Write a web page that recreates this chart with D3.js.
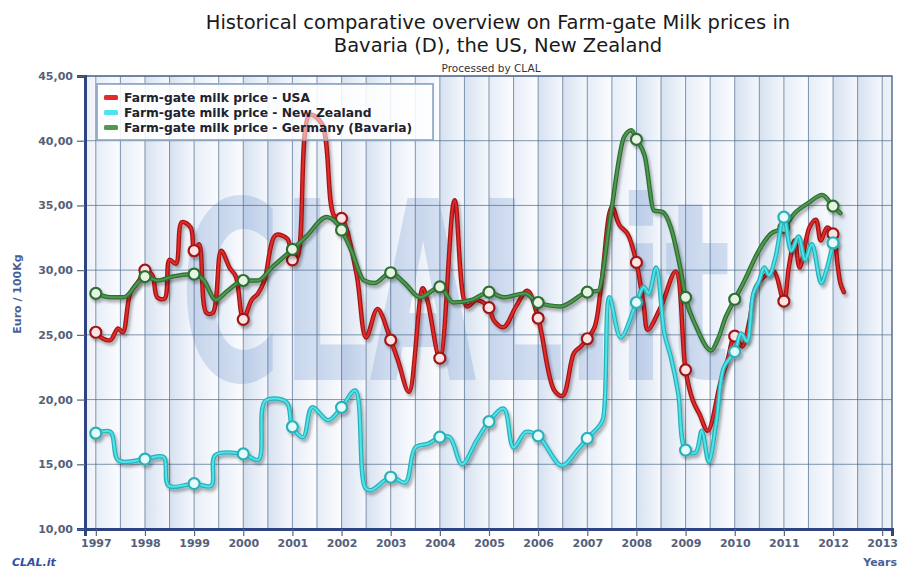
<!DOCTYPE html>
<html>
<head>
<meta charset="utf-8">
<script src="https://cdn.jsdelivr.net/npm/d3@7/dist/d3.min.js"></script>
<style>
html,body{margin:0;padding:0;background:#fff;}
svg{display:block;}
</style>
</head>
<body>
<svg id="chart" width="901" height="571"></svg>
<script>
// ---------- DATA ----------
const titleLines = ["Historical comparative overview on Farm-gate Milk prices in", "Bavaria (D), the US, New Zealand"];
const subtitle = "Processed by CLAL";
const seriesNames = ["Farm-gate milk price - USA", "Farm-gate milk price - New Zealand", "Farm-gate milk price - Germany (Bavaria)"];
const yTicks = [10, 15, 20, 25, 30, 35, 40, 45];
const xTickYears = [1997,1998,1999,2000,2001,2002,2003,2004,2005,2006,2007,2008,2009,2010,2011,2012,2013];

const usaDates = [1997.0,1997.15,1997.3,1997.45,1997.55,1997.7,1997.88,1998.0,1998.15,1998.25,1998.4,1998.5,1998.63,1998.75,1998.93,1999.0,1999.1,1999.25,1999.38,1999.55,1999.72,1999.85,2000.0,2000.17,2000.3,2000.43,2000.66,2000.9,2001.0,2001.1,2001.35,2001.6,2001.85,2002.0,2002.3,2002.5,2002.73,2003.0,2003.15,2003.37,2003.65,2003.75,2004.0,2004.3,2004.55,2004.75,2005.0,2005.1,2005.3,2005.55,2005.78,2006.0,2006.33,2006.5,2006.73,2006.87,2007.0,2007.15,2007.28,2007.5,2007.65,2007.82,2008.0,2008.15,2008.23,2008.5,2008.8,2009.0,2009.15,2009.28,2009.45,2009.72,2009.85,2010.0,2010.15,2010.3,2010.43,2010.67,2010.8,2011.0,2011.1,2011.22,2011.32,2011.52,2011.65,2011.75,2011.88,2012.0,2012.1,2012.15,2012.22];
const usaValues = [25.2,24.7,24.6,25.5,25.2,28.2,29.2,30.0,29.6,27.9,27.8,30.8,30.5,33.7,33.3,31.5,32.0,26.7,26.7,31.5,30.2,29.5,26.2,27.7,28.2,29.2,32.7,32.4,30.8,31.0,42.0,41.3,34.2,34.0,29.8,24.8,27.0,24.6,23.0,20.6,28.6,27.6,23.2,35.4,27.2,27.7,27.1,26.1,25.6,27.2,28.4,26.3,20.7,20.3,23.6,24.1,24.7,25.6,28.7,34.9,33.5,32.8,30.6,27.2,25.4,27.2,29.9,22.3,19.9,18.9,17.6,21.5,23.0,24.9,24.1,26.1,28.7,29.7,29.9,27.6,30.2,32.3,30.2,33.3,33.9,32.3,33.3,32.8,30.2,29.0,28.3];

const nzDates = [1997.0,1997.3,1997.46,1998.0,1998.38,1998.48,1999.0,1999.35,1999.43,2000.0,2000.31,2000.45,2000.88,2001.0,2001.22,2001.4,2001.73,2002.0,2002.28,2002.48,2002.6,2003.0,2003.3,2003.5,2003.77,2004.0,2004.2,2004.45,2004.75,2005.0,2005.3,2005.5,2005.75,2006.0,2006.48,2006.8,2007.0,2007.23,2007.32,2007.45,2007.68,2008.0,2008.15,2008.25,2008.4,2008.57,2008.7,2008.85,2009.0,2009.2,2009.33,2009.47,2009.63,2009.78,2010.0,2010.13,2010.25,2010.38,2010.5,2010.6,2010.7,2010.83,2011.0,2011.15,2011.3,2011.43,2011.57,2011.76,2011.88,2012.0];
const nzValues = [17.4,17.5,15.3,15.4,15.55,13.35,13.5,13.35,15.7,15.8,15.35,19.9,19.8,17.9,17.1,19.4,18.4,19.4,20.7,13.2,13.0,14.0,13.6,16.3,16.6,17.1,17.1,15.0,16.85,18.3,19.3,16.3,17.5,17.2,14.9,16.1,17.0,17.9,18.5,27.9,24.8,27.5,28.7,28.2,30.2,25.1,23.3,20.5,16.1,15.9,17.6,15.2,18.4,22.5,23.7,25.1,24.5,28.2,29.2,30.2,29.6,31.0,34.1,31.5,32.6,30.8,32.0,29.0,30.2,32.1];

const deDates = [1997.0,1997.3,1997.57,1997.85,1998.0,1998.27,1998.55,1999.0,1999.2,1999.44,1999.68,2000.0,2000.3,2000.58,2001.0,2001.28,2001.7,2002.0,2002.2,2002.46,2002.67,2003.0,2003.28,2003.6,2004.0,2004.27,2004.65,2005.0,2005.3,2005.73,2006.0,2006.45,2007.0,2007.22,2007.48,2007.75,2007.9,2008.0,2008.17,2008.36,2008.53,2008.7,2008.9,2009.0,2009.22,2009.52,2009.65,2009.82,2010.0,2010.2,2010.46,2010.73,2011.0,2011.22,2011.5,2011.78,2012.0,2012.15];
const deValues = [28.2,27.9,27.9,29.0,29.5,29.2,29.5,29.7,29.2,27.7,28.4,29.2,29.2,30.2,31.6,32.6,34.1,33.1,31.5,29.2,29.0,29.8,29.0,27.9,28.7,27.5,27.7,28.3,27.9,28.2,27.5,27.2,28.3,28.4,34.4,40.3,40.8,40.1,38.8,34.6,34.5,33.3,30.0,27.9,25.6,23.8,24.6,26.4,27.75,29.2,31.3,32.8,33.3,34.4,35.2,35.8,34.95,34.4];

// ---------- LAYOUT ----------
const FONT = "DejaVu Sans, Verdana, sans-serif";
const svg = d3.select("#chart");
const plot = {left: 85, right: 892, top: 76, bottom: 529};
const x = d3.scaleLinear().domain([1996.78, 2013.2]).range([plot.left, plot.right]);
const y = d3.scaleLinear().domain([10, 45]).range([plot.bottom, plot.top]);

const defs = svg.append("defs");
const stripe = defs.append("linearGradient").attr("id","stripe").attr("x1","0").attr("x2","1").attr("y1","0").attr("y2","0");
stripe.append("stop").attr("offset","0%").attr("stop-color","#d6e1f0");
stripe.append("stop").attr("offset","100%").attr("stop-color","#f5f8fc");
const stripe2 = defs.append("linearGradient").attr("id","stripe2").attr("x1","0").attr("x2","1").attr("y1","0").attr("y2","0");
stripe2.append("stop").attr("offset","0%").attr("stop-color","#e6edf7");
stripe2.append("stop").attr("offset","100%").attr("stop-color","#fbfcfe");
const clip = defs.append("clipPath").attr("id","plotclip");
clip.append("rect").attr("x",plot.left).attr("y",plot.top).attr("width",plot.right-plot.left).attr("height",plot.bottom-plot.top);
const shadow = defs.append("filter").attr("id","shadow").attr("x","-5%").attr("y","-5%").attr("width","110%").attr("height","115%");
shadow.append("feGaussianBlur").attr("in","SourceAlpha").attr("stdDeviation","1.5");
shadow.append("feOffset").attr("dx","1.5").attr("dy","2.5").attr("result","ob");
shadow.append("feComponentTransfer").append("feFuncA").attr("type","linear").attr("slope","0.3");
const mrg = shadow.append("feMerge");
mrg.append("feMergeNode");
mrg.append("feMergeNode").attr("in","SourceGraphic");

// background
svg.append("rect").attr("x",plot.left).attr("y",plot.top).attr("width",plot.right-plot.left).attr("height",plot.bottom-plot.top).attr("fill","#f4f7fb");

// half-year stripes
const halfYears = d3.range(1996.5, 2013.5, 0.5);
const g = svg.append("g").attr("clip-path","url(#plotclip)");
g.selectAll("rect.stripe").data(halfYears).enter().append("rect")
  .attr("x", d => x(d)).attr("y", plot.top)
  .attr("width", d => x(d+0.5)-x(d)).attr("height", plot.bottom-plot.top)
  .attr("fill", d => (Math.floor(d) % 2 === 0) ? "url(#stripe)" : "url(#stripe2)");

// watermark (logo text), horizontally condensed
svg.append("text").attr("transform", "translate(180,380) scale(0.553,1)")
  .attr("font-family", FONT).attr("font-weight","bold")
  .attr("font-size", 250)
  .attr("fill","#6a90cc").attr("fill-opacity",0.26).text("CLAL.it");

// grid
const grid = svg.append("g");
grid.selectAll("line.vg").data(d3.range(1997, 2013.01, 0.5)).enter().append("line")
  .attr("x1", d => x(d)).attr("x2", d => x(d)).attr("y1", plot.top).attr("y2", plot.bottom)
  .attr("stroke","#4d6b8a").attr("stroke-width",1).attr("stroke-opacity",0.7);
grid.selectAll("line.hg").data(yTicks).enter().append("line")
  .attr("x1", plot.left).attr("x2", plot.right).attr("y1", d => y(d)).attr("y2", d => y(d))
  .attr("stroke","#4d6b8a").attr("stroke-width",1).attr("stroke-opacity",0.7);

// frame
svg.append("rect").attr("x",plot.left).attr("y",plot.top).attr("width",plot.right-plot.left).attr("height",plot.bottom-plot.top)
  .attr("fill","none").attr("stroke","#5a6e90").attr("stroke-width",1.5);

// legend box background
const lg = svg.append("g");
lg.append("rect").attr("x",97).attr("y",84).attr("width",336).attr("height",56)
  .attr("fill","#ffffff").attr("fill-opacity",0.72).attr("stroke","#8fa6c4").attr("stroke-width",1.5);

// series
const colors = [
  {outer:"#a01818", inner:"#e42a2a", mfill:"#fbe3e3"},
  {outer:"#2bb0b8", inner:"#4fe4ea", mfill:"#e4fbfc"},
  {outer:"#2f6e35", inner:"#4f9a4f", mfill:"#e6f4e2"}
];
function makeData(ds, vs){ return ds.map((d,i)=>({t:d, v:vs[i]})); }
const series = [
  {data: makeData(usaDates, usaValues), c: colors[0], curve: d3.curveCatmullRom.alpha(0.5)},
  {data: makeData(nzDates, nzValues), c: colors[1], curve: d3.curveCatmullRom.alpha(0.5)},
  {data: makeData(deDates, deValues), c: colors[2], curve: d3.curveMonotoneX}
];
const drawOrder = [0, 2, 1];
const sg = svg.append("g").attr("clip-path","url(#plotclip)");
drawOrder.forEach(si => {
  const s = series[si];
  const line = d3.line().x(d => x(d.t)).y(d => y(d.v)).curve(s.curve);
  const gg = sg.append("g").attr("filter","url(#shadow)");
  gg.append("path").attr("d", line(s.data)).attr("fill","none")
    .attr("stroke", s.c.outer).attr("stroke-width",4.5).attr("stroke-linejoin","round").attr("stroke-linecap","round");
  gg.append("path").attr("d", line(s.data)).attr("fill","none")
    .attr("stroke", s.c.inner).attr("stroke-width",2).attr("stroke-linejoin","round").attr("stroke-linecap","round");
  const marks = s.data.filter(d => Number.isInteger(d.t));
  gg.selectAll("circle").data(marks).enter().append("circle")
    .attr("cx", d => x(d.t)).attr("cy", d => y(d.v)).attr("r", 5.5)
    .attr("fill", s.c.mfill).attr("stroke", s.c.outer).attr("stroke-width", 2.2);
});

// legend entries (above the lines, semi-transparent box like the reference)
const lg2 = svg.append("g");
lg2.append("rect").attr("x",97).attr("y",84).attr("width",336).attr("height",56)
  .attr("fill","#ffffff").attr("fill-opacity",0.55).attr("stroke","#8fa6c4").attr("stroke-width",1.5);
seriesNames.forEach((n,i) => {
  const yy = 98 + i*15;
  lg2.append("rect").attr("x",104).attr("y",yy-3).attr("width",14).attr("height",5)
    .attr("fill",[colors[0].inner,colors[1].inner,colors[2].inner][i]).attr("rx",1.5);
  lg2.append("text").attr("x",124).attr("y",yy+4).attr("font-family",FONT)
    .attr("font-weight","bold").attr("font-size",12.3).attr("fill","#1e2230").text(n);
});

// axes
const yAxis = d3.axisLeft(y).tickValues(yTicks).tickSize(8).tickFormat(d => d3.format(".2f")(d).replace(".", ","));
const ya = svg.append("g").attr("transform",`translate(${plot.left},0)`).call(yAxis);
ya.select(".domain").attr("stroke","#2e4382").attr("stroke-width",3);
ya.selectAll(".tick line").attr("stroke","#5a6478").attr("stroke-width",1.2);
ya.selectAll(".tick text").attr("font-family",FONT).attr("font-weight","bold")
  .attr("font-size",11).attr("fill","#55607a").attr("dx",-1);

const xAxis = d3.axisBottom(x).tickValues(xTickYears).tickSize(7).tickFormat(d3.format("d"));
const xa = svg.append("g").attr("transform",`translate(0,${plot.bottom})`).call(xAxis);
xa.select(".domain").attr("stroke","#2e4382").attr("stroke-width",3);
xa.selectAll(".tick line").attr("stroke","#5a6478").attr("stroke-width",1.2);
xa.selectAll(".tick text").attr("font-family",FONT).attr("font-weight","bold")
  .attr("font-size",11).attr("fill","#55607a").attr("dy","0.75em");

// titles
titleLines.forEach((t,i) => {
  svg.append("text").attr("x",498).attr("y",29 + i*23).attr("text-anchor","middle")
    .attr("font-family",FONT).attr("font-size",19.5).attr("fill","#1a1a1a").text(t);
});
svg.append("text").attr("x",491).attr("y",72).attr("text-anchor","middle")
  .attr("font-family",FONT).attr("font-size",10.5).attr("fill","#333").text(subtitle);

// axis titles
svg.append("text").attr("transform","translate(21,294) rotate(-90)").attr("text-anchor","middle")
  .attr("font-family",FONT).attr("font-weight","bold").attr("font-size",11)
  .attr("fill","#4a5f9a").text("Euro / 100Kg");
svg.append("text").attr("x",897).attr("y",566).attr("text-anchor","end")
  .attr("font-family",FONT).attr("font-weight","bold").attr("font-size",11)
  .attr("fill","#4a5f9a").text("Years");
svg.append("text").attr("x",12).attr("y",566)
  .attr("font-family",FONT).attr("font-weight","bold").attr("font-style","italic").attr("font-size",11)
  .attr("fill","#2d4fa8").text("CLAL.it");
</script>
</body>
</html>
